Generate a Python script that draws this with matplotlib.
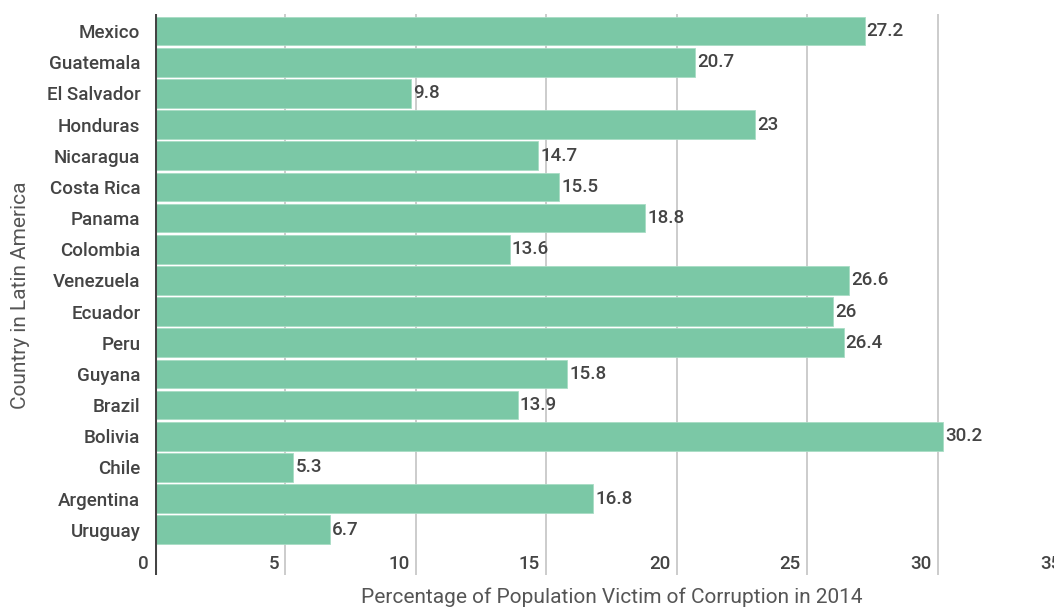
import matplotlib
matplotlib.use("Agg")
import matplotlib.pyplot as plt

countries = ["Mexico", "Guatemala", "El Salvador", "Honduras", "Nicaragua", "Costa Rica",
             "Panama", "Colombia", "Venezuela", "Ecuador", "Peru", "Guyana", "Brazil",
             "Bolivia", "Chile", "Argentina", "Uruguay"]
values = [27.2, 20.7, 9.8, 23, 14.7, 15.5, 18.8, 13.6, 26.6, 26, 26.4, 15.8, 13.9,
          30.2, 5.3, 16.8, 6.7]
value_labels = ["27.2", "20.7", "9.8", "23", "14.7", "15.5", "18.8", "13.6", "26.6", "26",
                "26.4", "15.8", "13.9", "30.2", "5.3", "16.8", "6.7"]
xticks = [0, 5, 10, 15, 20, 25, 30, 35]

plt.rcParams['font.family'] = ['Roboto', 'DejaVu Sans']
txt = '#444444'
fs = 13.5
fw = 'medium'

fig = plt.figure(figsize=(10.54, 6.09), dpi=100)
ax = fig.add_axes([155/1054, 1-575/609, 913/1054, 561/609])

pos = list(range(len(countries)))
ax.barh(pos, values, height=0.92, color='#7bc8a6', edgecolor='#a8dcc4', linewidth=0.6, zorder=2)
ax.set_xlim(0, 35)
ax.set_ylim(17.45, -0.55)

for x in xticks[1:]:
    ax.axvline(x, color='#c4c4c4', linewidth=1.2, zorder=1)
ax.axvline(0, color='#444444', linewidth=2.2, zorder=3)

ax.set_yticks(pos)
ax.set_yticklabels(countries, fontsize=fs, color=txt, fontweight=fw)
ax.tick_params(axis='y', length=0, pad=10.5)
ax.set_xticks([])
for s in ax.spines.values():
    s.set_visible(False)

for i, (v, lab) in enumerate(zip(values, value_labels)):
    ax.annotate(lab, (v, i), xytext=(1.5, 0), textcoords='offset points',
                va='center', ha='left', fontsize=fs, color=txt, fontweight=fw, zorder=4)

for x in xticks:
    ax.annotate(str(x), (x, 17.09), xytext=(-4.5, 0), textcoords='offset points',
                va='center', ha='right', fontsize=fs, color=txt, fontweight=fw,
                annotation_clip=False)

ax.text(0.5, -0.022, "Percentage of Population Victim of Corruption in 2014",
        transform=ax.transAxes, ha='center', va='top', fontsize=15, color='#555555')
fig.text(21/1054, 1-295/609, "Country in Latin America", rotation=90, ha='center', va='center',
         fontsize=15, color='#555555')

fig.savefig("out.png", dpi=100)
